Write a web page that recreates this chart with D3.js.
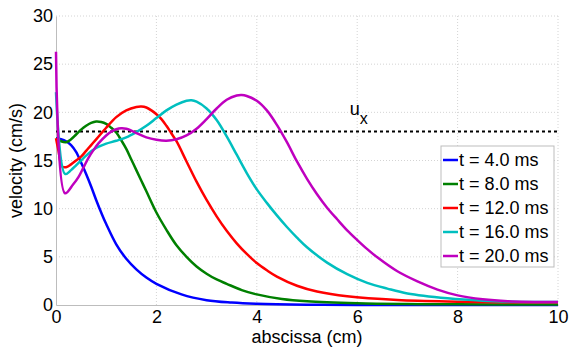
<!DOCTYPE html>
<html>
<head>
<meta charset="utf-8">
<script src="https://cdn.jsdelivr.net/npm/d3@7"></script>
<style>
  html, body { margin: 0; padding: 0; background: #fff; }
  svg { display: block; font-family: "Liberation Sans", Arial, Helvetica, sans-serif; }
</style>
</head>
<body>
<svg id="chart" width="579" height="348"></svg>
<script>
// Velocity profiles along the abscissa at successive times
const seriesLabels = ["t = 4.0 ms", "t = 8.0 ms", "t = 12.0 ms", "t = 16.0 ms", "t = 20.0 ms"];
const seriesColors = ["#0000ff", "#008000", "#ff0000", "#00bfbf", "#bf00bf"];

const profileT4 = [[0,17.3],[0.1,17.2],[0.2,17.0],[0.3,16.6],[0.4,15.9],[0.5,14.8],[0.6,13.6],[0.7,12.3],[0.8,10.9],[0.9,9.6],[1.0,8.4],[1.2,6.3],[1.4,4.8],[1.6,3.7],[1.8,2.85],[2.0,2.2],[2.5,1.1],[3.0,0.5],[3.5,0.25],[4.0,0.12],[5,0.03],[6,0.01],[10,0]];
const profileT8 = [[0,17.3],[0.1,17.0],[0.2,16.9],[0.3,17.2],[0.4,17.7],[0.5,18.2],[0.6,18.6],[0.7,18.9],[0.8,19.05],[0.9,19.0],[1.0,18.8],[1.1,18.4],[1.2,17.9],[1.3,17.1],[1.4,16.2],[1.5,15.1],[1.6,14.0],[1.7,12.9],[1.8,11.8],[2.0,9.6],[2.2,7.8],[2.4,6.2],[2.6,5.0],[2.8,4.0],[3.0,3.25],[3.2,2.65],[3.4,2.2],[3.7,1.55],[4.0,1.1],[4.5,0.62],[5,0.38],[6,0.18],[7,0.1],[8,0.07],[10,0.05]];
const profileT12 = [[0,17.3],[0.05,16.0],[0.12,14.4],[0.2,14.3],[0.3,14.6],[0.4,15.0],[0.5,15.4],[0.6,16.0],[0.7,16.6],[0.8,17.2],[0.9,17.8],[1.0,18.4],[1.2,19.5],[1.4,20.2],[1.6,20.55],[1.7,20.6],[1.8,20.5],[1.9,20.2],[2.0,19.8],[2.1,19.3],[2.2,18.6],[2.3,17.8],[2.4,17.0],[2.6,14.9],[2.8,12.8],[3.0,10.9],[3.2,9.2],[3.4,7.7],[3.6,6.4],[3.8,5.3],[4.0,4.35],[4.2,3.6],[4.4,2.95],[4.8,2.0],[5.2,1.4],[5.8,0.9],[6.8,0.52],[8,0.35],[9,0.28],[10,0.25]];
const profileT16 = [[0,22.1],[0.18,13.6],[0.3,14.0],[0.4,14.5],[0.5,15.0],[0.6,15.5],[0.7,15.95],[0.8,16.3],[0.9,16.55],[1.0,16.75],[1.2,17.05],[1.4,17.4],[1.6,17.95],[1.8,18.6],[2.0,19.4],[2.2,20.2],[2.4,20.8],[2.6,21.2],[2.7,21.25],[2.8,21.1],[3.0,20.4],[3.2,19.2],[3.4,17.5],[3.6,15.6],[3.8,13.7],[4.0,12.0],[4.2,10.6],[4.4,9.3],[4.6,8.1],[4.8,7.0],[5.0,6.0],[5.4,4.4],[5.8,3.2],[6.2,2.3],[6.6,1.7],[7.0,1.2],[7.8,0.7],[8.5,0.45],[9.1,0.35],[10,0.3]];
const profileT20 = [[0,26.3],[0.18,11.6],[0.34,12.5],[0.45,13.3],[0.55,14.3],[0.65,15.3],[0.75,16.1],[0.85,16.8],[1.0,17.6],[1.1,18.0],[1.2,18.25],[1.3,18.35],[1.4,18.3],[1.5,18.1],[1.6,17.85],[1.8,17.4],[2.0,17.15],[2.2,17.05],[2.4,17.2],[2.6,17.6],[2.8,18.3],[3.0,19.3],[3.2,20.4],[3.4,21.3],[3.6,21.75],[3.7,21.8],[3.8,21.7],[4.0,21.2],[4.2,20.2],[4.4,18.7],[4.6,16.9],[4.8,14.9],[5.0,13.1],[5.2,11.5],[5.4,10.1],[5.6,8.9],[5.8,7.75],[6.0,6.75],[6.2,5.8],[6.4,4.95],[6.8,3.5],[7.2,2.45],[7.6,1.6],[8.0,1.0],[8.5,0.6],[9.0,0.4],[10,0.3]];
const profiles = [profileT4, profileT8, profileT12, profileT16, profileT20];

const ux = 18;                       // reference velocity u_x
const xTicks = [0, 2, 4, 6, 8, 10];
const yTicks = [0, 5, 10, 15, 20, 25, 30];

const W = 579, H = 348;
const margin = { left: 56, right: 21, top: 16, bottom: 43 };
const svg = d3.select("#chart");

const x = d3.scaleLinear().domain([0, 10]).range([margin.left, W - margin.right]);
const y = d3.scaleLinear().domain([0, 30]).range([H - margin.bottom, margin.top]);

// dotted grid
const grid = svg.append("g").attr("stroke", "#d4d4d4").attr("stroke-width", 1)
  .attr("stroke-dasharray", "1,2");
grid.selectAll("line.gx").data(xTicks.slice(1)).join("line")
  .attr("x1", d => x(d)).attr("x2", d => x(d))
  .attr("y1", y(0)).attr("y2", y(30));
grid.selectAll("line.gy").data(yTicks.slice(1)).join("line")
  .attr("x1", x(0)).attr("x2", x(10))
  .attr("y1", d => y(d)).attr("y2", d => y(d));

// axes: labels only, with thin gray axis lines
const xAxis = svg.append("g").attr("transform", `translate(0,${y(0)})`)
  .call(d3.axisBottom(x).tickValues(xTicks).tickSize(0).tickPadding(5).tickFormat(d3.format("d")));
const yAxis = svg.append("g").attr("transform", `translate(${x(0)},0)`)
  .call(d3.axisLeft(y).tickValues(yTicks).tickSize(0).tickPadding(3).tickFormat(d3.format("d")));
[xAxis, yAxis].forEach(g => {
  g.select(".domain").attr("stroke", "#bdbdbd").attr("stroke-width", 1);
  g.selectAll("text").attr("font-size", 18).attr("fill", "#000")
    .attr("font-family", "'Liberation Sans', Arial, sans-serif");
});

// reference velocity line
svg.append("line")
  .attr("x1", x(0)).attr("x2", x(10)).attr("y1", y(ux)).attr("y2", y(ux))
  .attr("stroke", "#000").attr("stroke-width", 2).attr("stroke-dasharray", "3,3");

const uxLabel = svg.append("text").attr("x", x(5.85)).attr("y", y(ux) - 17)
  .attr("font-size", 18).attr("fill", "#000");
uxLabel.append("tspan").text("u");
uxLabel.append("tspan").attr("dy", 9).attr("font-size", 16).text("x");

// profiles
const line = d3.line().x(d => x(d[0])).y(d => y(d[1])).curve(d3.curveCatmullRom.alpha(0.5));
svg.append("g").selectAll("path").data(profiles).join("path")
  .attr("d", line)
  .attr("fill", "none")
  .attr("stroke", (d, i) => seriesColors[i])
  .attr("stroke-width", 2.5)
  .attr("stroke-linejoin", "round");

// axis titles
svg.append("text").attr("x", x(5)).attr("y", H - 5).attr("text-anchor", "middle")
  .attr("font-size", 18).text("abscissa (cm)");
svg.append("text").attr("transform", `translate(22,${(y(0) + y(30)) / 2}) rotate(-90)`)
  .attr("text-anchor", "middle").attr("font-size", 18).text("velocity (cm/s)");

// legend
const legend = svg.append("g").attr("transform", "translate(441,146)");
legend.append("rect").attr("width", 113).attr("height", 121)
  .attr("fill", "#fff").attr("stroke", "#bdbdbd").attr("stroke-width", 1);
const rows = legend.selectAll("g.row").data(seriesLabels).join("g")
  .attr("transform", (d, i) => `translate(0,${14 + i * 24})`);
rows.append("line").attr("x1", 2).attr("x2", 17).attr("y1", 0).attr("y2", 0)
  .attr("stroke", (d, i) => seriesColors[i]).attr("stroke-width", 2.5);
rows.append("text").attr("x", 18).attr("y", 0).attr("dy", "0.35em")
  .attr("font-size", 18).text(d => d);
</script>
</body>
</html>
